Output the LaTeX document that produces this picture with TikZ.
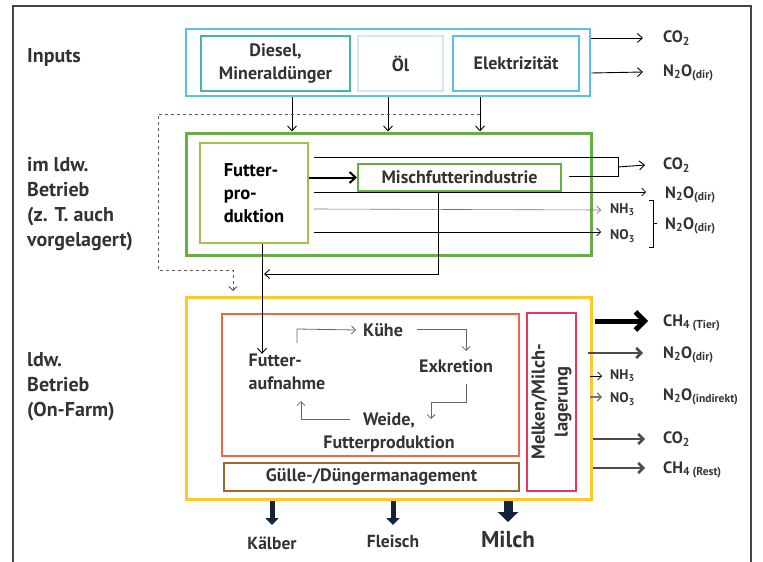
\documentclass[tikz,border=0pt]{standalone}
\usepackage{fontspec}
\setmainfont{PT Sans}
\usetikzlibrary{arrows.meta,calc}
\definecolor{txt}{HTML}{333333}
\definecolor{skyb}{HTML}{5BC0E8}
\definecolor{paleb}{HTML}{CDE9F7}
\definecolor{teal1}{HTML}{45B5AA}
\definecolor{grn}{HTML}{67AE45}
\definecolor{olive1}{HTML}{A2C04A}
\definecolor{yel}{HTML}{FFC72C}
\definecolor{orng}{HTML}{F26644}
\definecolor{brn}{HTML}{9B6A2F}
\definecolor{pnk}{HTML}{E8365F}
\definecolor{navy1}{HTML}{13243A}
\definecolor{frame}{HTML}{444444}
\begin{document}
\begin{tikzpicture}[x=1pt,y=-1pt,
  font=\bfseries\fontsize{18}{23}\selectfont, text=txt,
  box/.style={draw, rectangle, inner sep=0pt, align=center},
  arr/.style={-{Straight Barb[length=5pt,width=9pt]}, line width=0.9pt},
  thinarr/.style={-{Straight Barb[length=4pt,width=8pt]}, line width=0.6pt},
  cyc/.style={-{Straight Barb[length=4pt,width=8pt]}, line width=0.8pt, draw=black!60},
  emit/.style={-{Straight Barb[length=5pt,width=10pt]}, line width=2.6pt, draw=black!70},
  lab/.style={anchor=west, inner sep=0pt, font=\bfseries\fontsize{16.5}{20}\selectfont},
  small/.style={font=\bfseries\fontsize{14}{16}\selectfont},
  side/.style={anchor=north west, inner sep=0pt, align=left, font=\bfseries\fontsize{20}{25}\selectfont},
  outarr/.style={-{Triangle[length=7pt,width=13pt]}, line width=5pt, draw=navy1}
]
\useasboundingbox (0,0) rectangle (763,562);
% outer frame
\draw[frame, line width=1.2pt] (13,562) -- (13,6) -- (751,6) -- (751,562);

% left labels
\node[side] (linputs) at (27,48) {Inputs};
\node[side] (lvor) at (27,157) {im ldw.\\Betrieb\\(z. T. auch\\vorgelagert)};
\node[side] (lfarm) at (27,352) {ldw.\\Betrieb\\(On-Farm)};

% inputs
\node[box, draw=skyb, line width=2.6pt, minimum width=404pt, minimum height=67pt] (inputs) at (388,62.5) {};
\node[box, draw=teal1, line width=2pt, minimum width=149pt, minimum height=55pt] (diesel) at (275.5,63.5) {Diesel,\\Mineraldünger};
\node[box, draw=paleb, line width=2pt, minimum width=85pt, minimum height=55pt] (oel) at (400.5,63.5) {Öl};
\node[box, draw=skyb, line width=2pt, minimum width=126pt, minimum height=55pt] (elek) at (516,63.5) {Elektrizität};

% green block
\node[box, draw=grn, line width=3pt, minimum width=405pt, minimum height=122pt] (green) at (388.5,194) {};
\node[box, draw=olive1, line width=2.4pt, minimum width=108pt, minimum height=100pt, text=black] (fp) at (254,193) {};
\node[align=left, inner sep=0pt, text=black, font=\bfseries\fontsize{18.5}{23}\selectfont] (fptext) at (254,193) {Futter-\\pro-\\duktion};
\node[box, draw=grn, line width=2pt, minimum width=203pt, minimum height=27pt] (misch) at (459.5,177.5) {Mischfutterindustrie};

% yellow block
\node[box, draw=yel, line width=3pt, minimum width=405pt, minimum height=202pt] (yellow) at (388.5,398) {};
\node[box, draw=orng, line width=1.8pt, minimum width=297pt, minimum height=142pt] (cycle) at (370.5,385) {};
\node[box, draw=brn, line width=1.8pt, minimum width=295pt, minimum height=28pt] (guelle) at (371.5,477) {Gülle-/Düngermanagement};
\node[box, draw=pnk, line width=1.8pt, minimum width=49pt, minimum height=178pt] (melken) at (551.5,402) {};
\node[rotate=90, align=center, inner sep=0pt, font=\bfseries\fontsize{18.5}{23}\selectfont] (melkentext) at (551.5,402) {Melken/Milch-\\lagerung};

% cycle nodes
\node[align=left, inner sep=0pt] (fa) at (287,372) {Futter-\\aufnahme};
\node[inner sep=0pt] (kuehe) at (383,330) {Kühe};
\node[inner sep=0pt] (exkr) at (456,366) {Exkretion};
\node[align=center, inner sep=0pt] (weide) at (389,432) {Weide,\\Futterproduktion};

% cycle arrows
\coordinate (c1) at (297,343);
\draw[cyc] (c1) -- (297,329) -- (kuehe.west -| 356,0);
\coordinate (c2) at (417,329);
\draw[cyc] (c2) -- (466,329) -- (466,351);
\coordinate (c3) at (466,384);
\draw[cyc] (c3) -- (466,402) -- (431,402) -- (431,419);
\coordinate (c4) at (350,419);
\draw[cyc] (c4) -- (301,419) -- (301,401);

% input arrows down
\draw[arr] (292,0 |- inputs.south) -- (292,0 |- green.north);
\draw[arr] (388,0 |- inputs.south) -- (388,0 |- green.north);
\draw[arr] (480,0 |- inputs.south) -- (480,0 |- green.north);
% dashed bypass
\coordinate (dstart) at (480,114);
\draw[dashed, draw=black!65, line width=0.8pt, -{Straight Barb[length=4pt,width=8pt]}] (dstart) -- (158,114) -- (158,270) -- (233,270) -- (233,291);

% input emissions
\node[lab] (co2a) at (663,38) {CO\textsubscript{2}};
\node[lab] (n2oa) at (663,73) {N\textsubscript{2}O\textsubscript{(dir)}};
\draw[arr] (inputs.east |- co2a) -- (643,38);
\draw[arr] (inputs.east |- n2oa) -- (643,72);

% green internal lines
\draw[line width=2pt, -{Straight Barb[length=6pt,width=11pt]}] (fp.east |- misch) -- (misch.west);
\coordinate (b1) at (618,167);
\draw[line width=0.8pt] (314,157) -- (618,157) -- (618,176) -- (569,176);
\node[lab] (co2b) at (663,165) {CO\textsubscript{2}};
\draw[arr] (b1) -- (co2b.west -| 645,0);
\node[lab] (n2ob) at (665,195) {N\textsubscript{2}O\textsubscript{(dir)}};
\draw[thinarr] (314,192) -- (646,192);
\node[lab, small] (nh3a) at (610,210) {NH\textsubscript{3}};
\node[lab, small] (no3a) at (610,236) {NO\textsubscript{3}};
\draw[thinarr, draw=black!55] (314,209) -- (nh3a.west -| 601,0);
\draw[thinarr] (314,232) -- (601,232);
\draw[line width=0.9pt] (649,200) -- (653,200) -- (653,247) -- (649,247);
\draw[line width=0.9pt] (653,223) -- (657,223);
\node[lab] (n2oc) at (665,226) {N\textsubscript{2}O\textsubscript{(dir)}};

% flows into yellow
\draw[arr] (262,0 |- fp.south) -- (262,0 |- fa.north);
\draw[arr] (438,0 |- misch.south) -- (438,274) -- (264,274);

% yellow emissions
\node[lab] (ch4t) at (663,323) {CH\textsubscript{4 (Tier)}};
\draw[-{Straight Barb[length=9pt,width=18pt]}, line width=5pt] (595,321) -- (648,321);
\node[lab] (n2od) at (663,355) {N\textsubscript{2}O\textsubscript{(dir)}};
\draw[emit] (588,353) -- (643,353);
\node[lab, small] (nh3b) at (610,376) {NH\textsubscript{3}};
\draw[thinarr] (590,376) -- (602,376);
\node[lab, small] (no3b) at (610,399) {NO\textsubscript{3}};
\draw[thinarr, draw=black!55, line width=1.2pt] (590,397) -- (602,397);
\node[lab] (n2oi) at (663,397) {N\textsubscript{2}O\textsubscript{(indirekt)}};
\node[lab] (co2c) at (663,439) {CO\textsubscript{2}};
\draw[emit] (yellow.east |- co2c) -- (645,439);
\node[lab] (ch4r) at (663,470) {CH\textsubscript{4 (Rest)}};
\draw[emit] (yellow.east |- 0,468) -- (645,468);

% products
\node[inner sep=0pt, font=\bfseries\fontsize{17.5}{20}\selectfont] (kaelber) at (272,543) {Kälber};
\node[inner sep=0pt, font=\bfseries\fontsize{17.5}{20}\selectfont] (fleisch) at (393,541) {Fleisch};
\node[inner sep=0pt, font=\bfseries\fontsize{23}{26}\selectfont] (milch) at (508,539) {Milch};
\draw[outarr] (272,0 |- yellow.south) -- (272,525);
\draw[outarr] (393,0 |- yellow.south) -- (393,525);
\draw[-{Triangle[length=10pt,width=20pt]}, line width=9pt, draw=navy1] (508,0 |- yellow.south) -- (508,522);
\end{tikzpicture}
\end{document}
